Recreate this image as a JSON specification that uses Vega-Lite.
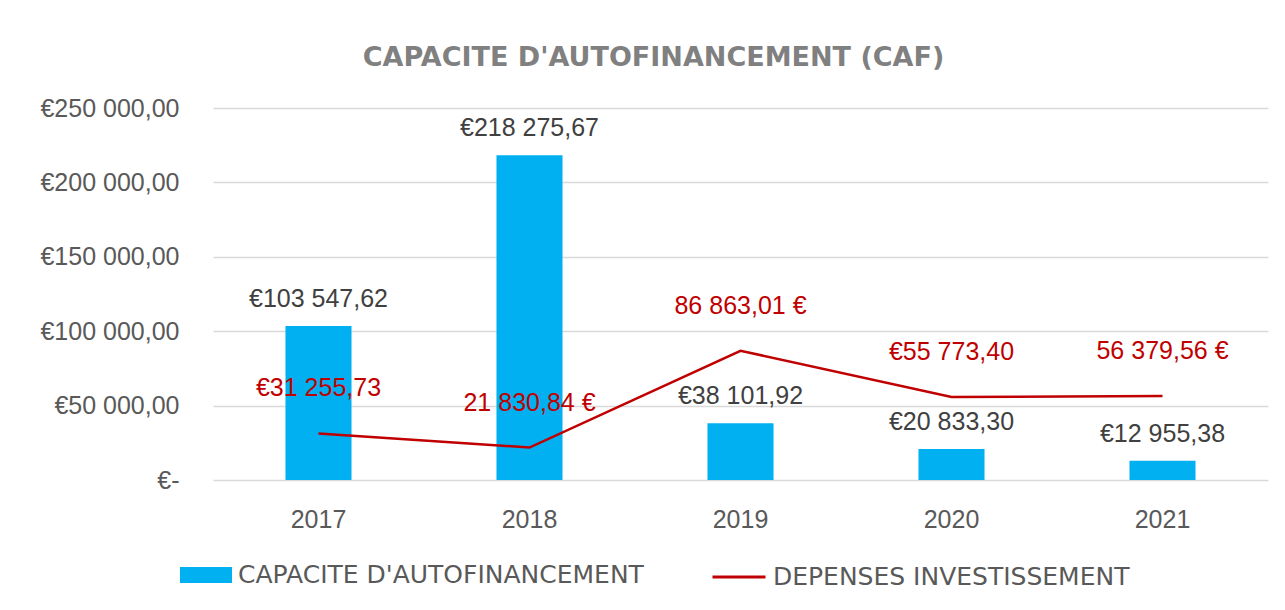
{
  "$schema": "https://vega.github.io/schema/vega-lite/v6.json",
  "autosize": "none",
  "width": 1055,
  "height": 372,
  "padding": {"left": 213, "top": 108, "right": 17, "bottom": 130},
  "background": "white",
  "title": {
    "text": "CAPACITE D'AUTOFINANCEMENT (CAF)",
    "anchor": "middle",
    "frame": "group",
    "dx": -87,
    "offset": 24,
    "font": "DejaVu Sans",
    "fontSize": 27,
    "fontWeight": "bold",
    "color": "#808080"
  },
  "config": {
    "locale": {
      "number": {"decimal": ",", "thousands": " ", "grouping": [3], "currency": ["€", ""]}
    },
    "view": {"stroke": null}
  },
  "data": {
    "values": [
      {"year": "2017", "caf": 103547.62, "dep": 31255.73, "dep_label": "€31 255,73"},
      {"year": "2018", "caf": 218275.67, "dep": 21830.84, "dep_label": "21 830,84 €"},
      {"year": "2019", "caf": 38101.92, "dep": 86863.01, "dep_label": "86 863,01 €"},
      {"year": "2020", "caf": 20833.30, "dep": 55773.40, "dep_label": "€55 773,40"},
      {"year": "2021", "caf": 12955.38, "dep": 56379.56, "dep_label": "56 379,56 €"}
    ]
  },
  "encoding": {
    "x": {
      "field": "year",
      "type": "nominal",
      "scale": {"paddingInner": 0.687, "paddingOuter": 0.3435},
      "axis": {
        "title": null,
        "labelAngle": 0,
        "domain": false,
        "ticks": false,
        "tickSize": 0,
        "labelPadding": 27,
        "labelFont": "Liberation Sans",
        "labelFontSize": 25,
        "labelColor": "#595959"
      }
    }
  },
  "layer": [
    {
      "mark": {"type": "bar"},
      "encoding": {
        "y": {
          "field": "caf",
          "type": "quantitative",
          "scale": {"domain": [0, 250000], "nice": false},
          "axis": {
            "title": null,
            "values": [0, 50000, 100000, 150000, 200000, 250000],
            "labelExpr": "datum.value === 0 ? '€-' : format(datum.value, '$,.2f')",
            "domain": false,
            "ticks": false,
            "tickSize": 0,
            "labelPadding": 34,
            "labelFont": "Liberation Sans",
            "labelFontSize": 25,
            "labelColor": "#595959",
            "gridColor": "#d9d9d9",
            "gridWidth": 1.5
          }
        },
        "fill": {
          "datum": "CAPACITE D'AUTOFINANCEMENT",
          "type": "nominal",
          "scale": {"range": ["#00B0F0"]},
          "legend": {
            "title": null,
            "orient": "none",
            "legendX": -33,
            "legendY": 441,
            "symbolType": "M-1,-0.3077L1,-0.3077L1,0.3077L-1,0.3077Z",
            "symbolSize": 2704,
            "symbolStrokeWidth": 0,
            "labelOffset": 6,
            "labelFont": "DejaVu Sans",
            "labelFontSize": 25,
            "labelColor": "#595959",
            "labelLimit": 700
          }
        }
      }
    },
    {
      "mark": {"type": "line", "strokeWidth": 2.5},
      "encoding": {
        "y": {"field": "dep", "type": "quantitative"},
        "stroke": {
          "datum": "DEPENSES INVESTISSEMENT",
          "type": "nominal",
          "scale": {"range": ["#C00000"]},
          "legend": {
            "title": null,
            "orient": "none",
            "legendX": 498,
            "legendY": 441,
            "symbolType": "stroke",
            "symbolSize": 2809,
            "symbolStrokeWidth": 3,
            "labelOffset": 6,
            "labelFont": "DejaVu Sans",
            "labelFontSize": 25,
            "labelColor": "#595959",
            "labelLimit": 700
          }
        }
      }
    },
    {
      "mark": {"type": "text", "dy": -27, "baseline": "middle", "font": "Liberation Sans", "fontSize": 25, "color": "#404040"},
      "encoding": {
        "y": {"field": "caf", "type": "quantitative"},
        "text": {"field": "caf", "type": "quantitative", "format": "$,.2f"}
      }
    },
    {
      "mark": {"type": "text", "dy": -45, "baseline": "middle", "font": "Liberation Sans", "fontSize": 25, "color": "#C00000"},
      "encoding": {
        "y": {"field": "dep", "type": "quantitative"},
        "text": {"field": "dep_label", "type": "nominal"}
      }
    }
  ]
}
